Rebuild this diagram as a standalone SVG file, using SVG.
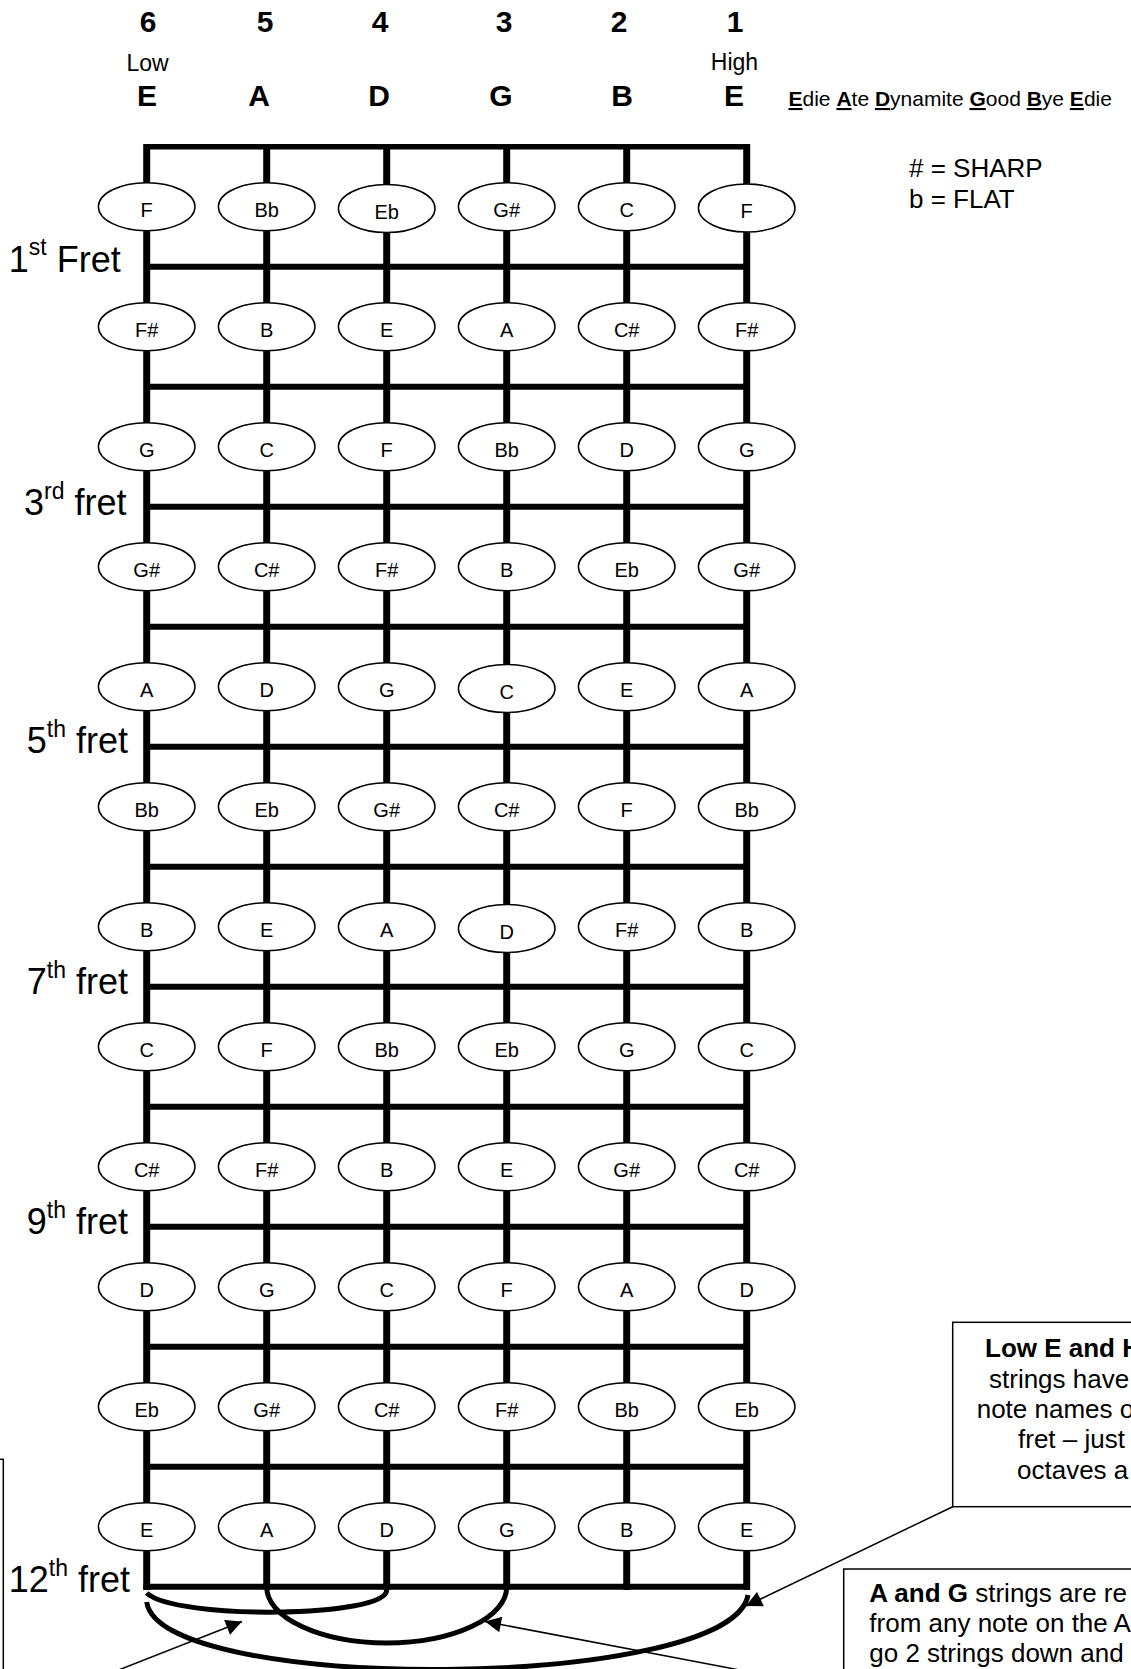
<svg xmlns="http://www.w3.org/2000/svg" width="1131" height="1669" viewBox="0 0 1131 1669">
<defs>
<style>
text{font-family:"Liberation Sans",Arial,sans-serif;fill:#000}
.num{font-size:30px;font-weight:bold;text-anchor:middle}
.sn{font-size:30px;font-weight:bold;text-anchor:middle}
.lh{font-size:23px;text-anchor:middle}
.note ellipse{fill:#fff;stroke:#000;stroke-width:1.5}
.note text{font-size:20px;text-anchor:middle}
.str{stroke:#000;stroke-width:7;fill:none}
.fret{stroke:#000;stroke-width:6;fill:none}
.fl{font-size:36px}
.arc{stroke:#000;stroke-width:5;fill:none;stroke-linecap:butt}
.ptr{stroke:#000;stroke-width:1.5;fill:none;marker-end:url(#ah)}
.box{fill:#fff;stroke:#000;stroke-width:1.5}
.bt{font-size:26px}
.u{font-weight:bold;text-decoration:underline}
</style>
<marker id="ah" viewBox="0 0 10 10" refX="10" refY="5" markerWidth="19" markerHeight="16" markerUnits="userSpaceOnUse" orient="auto">
<path d="M0,0 L10,5 L0,10 z" fill="#000"/>
</marker>
</defs>

<g id="header">
<text class="num" x="148" y="32">6</text>
<text class="num" x="265" y="32">5</text>
<text class="num" x="380" y="32">4</text>
<text class="num" x="504" y="32">3</text>
<text class="num" x="619" y="32">2</text>
<text class="num" x="735" y="32">1</text>
<text class="lh" x="147.5" y="70.5">Low</text>
<text class="lh" x="734.5" y="70">High</text>
<text class="sn" x="147" y="106">E</text>
<text class="sn" x="259" y="106">A</text>
<text class="sn" x="379" y="106">D</text>
<text class="sn" x="501" y="106">G</text>
<text class="sn" x="622" y="106">B</text>
<text class="sn" x="734" y="106">E</text>
<text x="788.5" y="106" font-size="21"><tspan class="u">E</tspan>die <tspan class="u">A</tspan>te <tspan class="u">D</tspan>ynamite <tspan class="u">G</tspan>ood <tspan class="u">B</tspan>ye <tspan class="u">E</tspan>die</text>
<text x="909" y="176.5" font-size="26">&#35; = SHARP</text>
<text x="909" y="207.5" font-size="26">b = FLAT</text>
</g>

<g id="fretboard">
<line class="fret" x1="144" y1="146.7" x2="750" y2="146.7" style="stroke-width:5.5"/>
<line class="str" x1="146.7" y1="144" x2="146.7" y2="1590"/>
<line class="str" x1="266.7" y1="144" x2="266.7" y2="1590"/>
<line class="str" x1="386.7" y1="144" x2="386.7" y2="1590"/>
<line class="str" x1="506.7" y1="144" x2="506.7" y2="1590"/>
<line class="str" x1="626.7" y1="144" x2="626.7" y2="1590"/>
<line class="str" x1="746.7" y1="144" x2="746.7" y2="1590"/>
<line class="fret" x1="146.7" y1="266.7" x2="746.7" y2="266.7"/>
<line class="fret" x1="146.7" y1="386.7" x2="746.7" y2="386.7"/>
<line class="fret" x1="146.7" y1="506.7" x2="746.7" y2="506.7"/>
<line class="fret" x1="146.7" y1="626.7" x2="746.7" y2="626.7"/>
<line class="fret" x1="146.7" y1="746.7" x2="746.7" y2="746.7"/>
<line class="fret" x1="146.7" y1="866.7" x2="746.7" y2="866.7"/>
<line class="fret" x1="146.7" y1="986.7" x2="746.7" y2="986.7"/>
<line class="fret" x1="146.7" y1="1106.7" x2="746.7" y2="1106.7"/>
<line class="fret" x1="146.7" y1="1226.7" x2="746.7" y2="1226.7"/>
<line class="fret" x1="146.7" y1="1346.7" x2="746.7" y2="1346.7"/>
<line class="fret" x1="146.7" y1="1466.7" x2="746.7" y2="1466.7"/>
<line class="fret" x1="143.5" y1="1586.7" x2="750" y2="1586.7"/>
</g>

<g id="fret-labels">
<text class="fl" x="8.8" y="271.7">1<tspan font-size="23" dy="-17">st</tspan><tspan dy="17"> Fret</tspan></text>
<text class="fl" x="24" y="515">3<tspan font-size="23" dy="-16">rd</tspan><tspan dy="16"> fret</tspan></text>
<text class="fl" x="26.8" y="753.3">5<tspan font-size="23" dy="-16">th</tspan><tspan dy="16"> fret</tspan></text>
<text class="fl" x="26.8" y="993.5">7<tspan font-size="23" dy="-16">th</tspan><tspan dy="16"> fret</tspan></text>
<text class="fl" x="26.8" y="1233.5">9<tspan font-size="23" dy="-16">th</tspan><tspan dy="16"> fret</tspan></text>
<text class="fl" x="8.8" y="1591.7">12<tspan font-size="23" dy="-16">th</tspan><tspan dy="16"> fret</tspan></text>
</g>

<g id="notes">
<g class="note" id="n1-6"><ellipse cx="146.7" cy="206.7" rx="48.3" ry="24"/><text x="146.7" y="216.5">F</text></g>
<g class="note" id="n1-5"><ellipse cx="266.7" cy="206.7" rx="48.3" ry="24"/><text x="266.7" y="216.5">Bb</text></g>
<g class="note" id="n1-4"><ellipse cx="386.7" cy="208.5" rx="48.3" ry="24"/><text x="386.7" y="218.5">Eb</text></g>
<g class="note" id="n1-3"><ellipse cx="506.7" cy="206.7" rx="48.3" ry="24"/><text x="506.7" y="216.5">G#</text></g>
<g class="note" id="n1-2"><ellipse cx="626.7" cy="206.7" rx="48.3" ry="24"/><text x="626.7" y="216.5">C</text></g>
<g class="note" id="n1-1"><ellipse cx="746.7" cy="208" rx="48.3" ry="24"/><text x="746.7" y="217.5">F</text></g>

<g class="note" id="n2-6"><ellipse cx="146.7" cy="326.7" rx="48.3" ry="24"/><text x="146.7" y="336.5">F#</text></g>
<g class="note" id="n2-5"><ellipse cx="266.7" cy="326.7" rx="48.3" ry="24"/><text x="266.7" y="336.5">B</text></g>
<g class="note" id="n2-4"><ellipse cx="386.7" cy="326.7" rx="48.3" ry="24"/><text x="386.7" y="336.5">E</text></g>
<g class="note" id="n2-3"><ellipse cx="506.7" cy="326.7" rx="48.3" ry="24"/><text x="506.7" y="336.5">A</text></g>
<g class="note" id="n2-2"><ellipse cx="626.7" cy="326.7" rx="48.3" ry="24"/><text x="626.7" y="336.5">C#</text></g>
<g class="note" id="n2-1"><ellipse cx="746.7" cy="326.7" rx="48.3" ry="24"/><text x="746.7" y="336.5">F#</text></g>

<g class="note" id="n3-6"><ellipse cx="146.7" cy="446.7" rx="48.3" ry="24"/><text x="146.7" y="456.5">G</text></g>
<g class="note" id="n3-5"><ellipse cx="266.7" cy="446.7" rx="48.3" ry="24"/><text x="266.7" y="456.5">C</text></g>
<g class="note" id="n3-4"><ellipse cx="386.7" cy="446.7" rx="48.3" ry="24"/><text x="386.7" y="456.5">F</text></g>
<g class="note" id="n3-3"><ellipse cx="506.7" cy="446.7" rx="48.3" ry="24"/><text x="506.7" y="456.5">Bb</text></g>
<g class="note" id="n3-2"><ellipse cx="626.7" cy="446.7" rx="48.3" ry="24"/><text x="626.7" y="456.5">D</text></g>
<g class="note" id="n3-1"><ellipse cx="746.7" cy="446.7" rx="48.3" ry="24"/><text x="746.7" y="456.5">G</text></g>

<g class="note" id="n4-6"><ellipse cx="146.7" cy="566.7" rx="48.3" ry="24"/><text x="146.7" y="576.5">G#</text></g>
<g class="note" id="n4-5"><ellipse cx="266.7" cy="566.7" rx="48.3" ry="24"/><text x="266.7" y="576.5">C#</text></g>
<g class="note" id="n4-4"><ellipse cx="386.7" cy="566.7" rx="48.3" ry="24"/><text x="386.7" y="576.5">F#</text></g>
<g class="note" id="n4-3"><ellipse cx="506.7" cy="566.7" rx="48.3" ry="24"/><text x="506.7" y="576.5">B</text></g>
<g class="note" id="n4-2"><ellipse cx="626.7" cy="566.7" rx="48.3" ry="24"/><text x="626.7" y="576.5">Eb</text></g>
<g class="note" id="n4-1"><ellipse cx="746.7" cy="566.7" rx="48.3" ry="24"/><text x="746.7" y="576.5">G#</text></g>

<g class="note" id="n5-6"><ellipse cx="146.7" cy="686.7" rx="48.3" ry="24"/><text x="146.7" y="696.5">A</text></g>
<g class="note" id="n5-5"><ellipse cx="266.7" cy="686.7" rx="48.3" ry="24"/><text x="266.7" y="696.5">D</text></g>
<g class="note" id="n5-4"><ellipse cx="386.7" cy="686.7" rx="48.3" ry="24"/><text x="386.7" y="696.5">G</text></g>
<g class="note" id="n5-3"><ellipse cx="506.7" cy="688.5" rx="48.3" ry="24"/><text x="506.7" y="698.5">C</text></g>
<g class="note" id="n5-2"><ellipse cx="626.7" cy="686.7" rx="48.3" ry="24"/><text x="626.7" y="696.5">E</text></g>
<g class="note" id="n5-1"><ellipse cx="746.7" cy="686.7" rx="48.3" ry="24"/><text x="746.7" y="696.5">A</text></g>

<g class="note" id="n6-6"><ellipse cx="146.7" cy="806.7" rx="48.3" ry="24"/><text x="146.7" y="816.5">Bb</text></g>
<g class="note" id="n6-5"><ellipse cx="266.7" cy="806.7" rx="48.3" ry="24"/><text x="266.7" y="816.5">Eb</text></g>
<g class="note" id="n6-4"><ellipse cx="386.7" cy="806.7" rx="48.3" ry="24"/><text x="386.7" y="816.5">G#</text></g>
<g class="note" id="n6-3"><ellipse cx="506.7" cy="806.7" rx="48.3" ry="24"/><text x="506.7" y="816.5">C#</text></g>
<g class="note" id="n6-2"><ellipse cx="626.7" cy="806.7" rx="48.3" ry="24"/><text x="626.7" y="816.5">F</text></g>
<g class="note" id="n6-1"><ellipse cx="746.7" cy="806.7" rx="48.3" ry="24"/><text x="746.7" y="816.5">Bb</text></g>

<g class="note" id="n7-6"><ellipse cx="146.7" cy="926.7" rx="48.3" ry="24"/><text x="146.7" y="936.5">B</text></g>
<g class="note" id="n7-5"><ellipse cx="266.7" cy="926.7" rx="48.3" ry="24"/><text x="266.7" y="936.5">E</text></g>
<g class="note" id="n7-4"><ellipse cx="386.7" cy="926.7" rx="48.3" ry="24"/><text x="386.7" y="936.5">A</text></g>
<g class="note" id="n7-3"><ellipse cx="506.7" cy="928.5" rx="48.3" ry="24"/><text x="506.7" y="938.5">D</text></g>
<g class="note" id="n7-2"><ellipse cx="626.7" cy="926.7" rx="48.3" ry="24"/><text x="626.7" y="936.5">F#</text></g>
<g class="note" id="n7-1"><ellipse cx="746.7" cy="926.7" rx="48.3" ry="24"/><text x="746.7" y="936.5">B</text></g>

<g class="note" id="n8-6"><ellipse cx="146.7" cy="1046.7" rx="48.3" ry="24"/><text x="146.7" y="1056.5">C</text></g>
<g class="note" id="n8-5"><ellipse cx="266.7" cy="1046.7" rx="48.3" ry="24"/><text x="266.7" y="1056.5">F</text></g>
<g class="note" id="n8-4"><ellipse cx="386.7" cy="1046.7" rx="48.3" ry="24"/><text x="386.7" y="1056.5">Bb</text></g>
<g class="note" id="n8-3"><ellipse cx="506.7" cy="1046.7" rx="48.3" ry="24"/><text x="506.7" y="1056.5">Eb</text></g>
<g class="note" id="n8-2"><ellipse cx="626.7" cy="1046.7" rx="48.3" ry="24"/><text x="626.7" y="1056.5">G</text></g>
<g class="note" id="n8-1"><ellipse cx="746.7" cy="1046.7" rx="48.3" ry="24"/><text x="746.7" y="1056.5">C</text></g>

<g class="note" id="n9-6"><ellipse cx="146.7" cy="1166.7" rx="48.3" ry="24"/><text x="146.7" y="1176.5">C#</text></g>
<g class="note" id="n9-5"><ellipse cx="266.7" cy="1166.7" rx="48.3" ry="24"/><text x="266.7" y="1176.5">F#</text></g>
<g class="note" id="n9-4"><ellipse cx="386.7" cy="1166.7" rx="48.3" ry="24"/><text x="386.7" y="1176.5">B</text></g>
<g class="note" id="n9-3"><ellipse cx="506.7" cy="1166.7" rx="48.3" ry="24"/><text x="506.7" y="1176.5">E</text></g>
<g class="note" id="n9-2"><ellipse cx="626.7" cy="1166.7" rx="48.3" ry="24"/><text x="626.7" y="1176.5">G#</text></g>
<g class="note" id="n9-1"><ellipse cx="746.7" cy="1166.7" rx="48.3" ry="24"/><text x="746.7" y="1176.5">C#</text></g>

<g class="note" id="n10-6"><ellipse cx="146.7" cy="1286.7" rx="48.3" ry="24"/><text x="146.7" y="1296.5">D</text></g>
<g class="note" id="n10-5"><ellipse cx="266.7" cy="1286.7" rx="48.3" ry="24"/><text x="266.7" y="1296.5">G</text></g>
<g class="note" id="n10-4"><ellipse cx="386.7" cy="1286.7" rx="48.3" ry="24"/><text x="386.7" y="1296.5">C</text></g>
<g class="note" id="n10-3"><ellipse cx="506.7" cy="1286.7" rx="48.3" ry="24"/><text x="506.7" y="1296.5">F</text></g>
<g class="note" id="n10-2"><ellipse cx="626.7" cy="1286.7" rx="48.3" ry="24"/><text x="626.7" y="1296.5">A</text></g>
<g class="note" id="n10-1"><ellipse cx="746.7" cy="1286.7" rx="48.3" ry="24"/><text x="746.7" y="1296.5">D</text></g>

<g class="note" id="n11-6"><ellipse cx="146.7" cy="1406.7" rx="48.3" ry="24"/><text x="146.7" y="1416.5">Eb</text></g>
<g class="note" id="n11-5"><ellipse cx="266.7" cy="1406.7" rx="48.3" ry="24"/><text x="266.7" y="1416.5">G#</text></g>
<g class="note" id="n11-4"><ellipse cx="386.7" cy="1406.7" rx="48.3" ry="24"/><text x="386.7" y="1416.5">C#</text></g>
<g class="note" id="n11-3"><ellipse cx="506.7" cy="1406.7" rx="48.3" ry="24"/><text x="506.7" y="1416.5">F#</text></g>
<g class="note" id="n11-2"><ellipse cx="626.7" cy="1406.7" rx="48.3" ry="24"/><text x="626.7" y="1416.5">Bb</text></g>
<g class="note" id="n11-1"><ellipse cx="746.7" cy="1406.7" rx="48.3" ry="24"/><text x="746.7" y="1416.5">Eb</text></g>

<g class="note" id="n12-6"><ellipse cx="146.7" cy="1526.7" rx="48.3" ry="24"/><text x="146.7" y="1536.5">E</text></g>
<g class="note" id="n12-5"><ellipse cx="266.7" cy="1526.7" rx="48.3" ry="24"/><text x="266.7" y="1536.5">A</text></g>
<g class="note" id="n12-4"><ellipse cx="386.7" cy="1526.7" rx="48.3" ry="24"/><text x="386.7" y="1536.5">D</text></g>
<g class="note" id="n12-3"><ellipse cx="506.7" cy="1526.7" rx="48.3" ry="24"/><text x="506.7" y="1536.5">G</text></g>
<g class="note" id="n12-2"><ellipse cx="626.7" cy="1526.7" rx="48.3" ry="24"/><text x="626.7" y="1536.5">B</text></g>
<g class="note" id="n12-1"><ellipse cx="746.7" cy="1526.7" rx="48.3" ry="24"/><text x="746.7" y="1536.5">E</text></g>
</g>

<g id="box-left"><rect class="box" x="-300" y="1459.3" width="303.3" height="400"/></g>

<g id="box-lowE">
<rect class="box" x="952.7" y="1322.3" width="400" height="184.4"/>
<text class="bt" x="985" y="1357" font-weight="bold">Low E and H</text>
<text class="bt" x="989" y="1387.5">strings have</text>
<text class="bt" x="976.7" y="1418">note names o</text>
<text class="bt" x="1018" y="1448">fret – just</text>
<text class="bt" x="1017" y="1478.5">octaves a</text>
</g>

<g id="box-AG">
<rect class="box" x="843.7" y="1569" width="400" height="200"/>
<text class="bt" x="869.3" y="1602.3"><tspan font-weight="bold">A and G</tspan> strings are re</text>
<text class="bt" x="869.3" y="1632.3">from any note on the A</text>
<text class="bt" x="869.3" y="1661.7">go 2 strings down and</text>
</g>

<g id="connectors">
<path class="arc" d="M146.7,1593 C175,1620 386.7,1618 386.7,1590"/>
<path class="arc" d="M266.7,1587 A120,56 0 0 0 506.7,1587"/>
<path class="arc" d="M146.7,1602 C160,1695 732,1691 748,1595"/>
<line class="ptr" x1="116" y1="1671" x2="242" y2="1621.5"/>
<line class="ptr" x1="745" y1="1671" x2="485" y2="1621.5"/>
<line class="ptr" x1="952.7" y1="1506.7" x2="746" y2="1606"/>
</g>
</svg>
